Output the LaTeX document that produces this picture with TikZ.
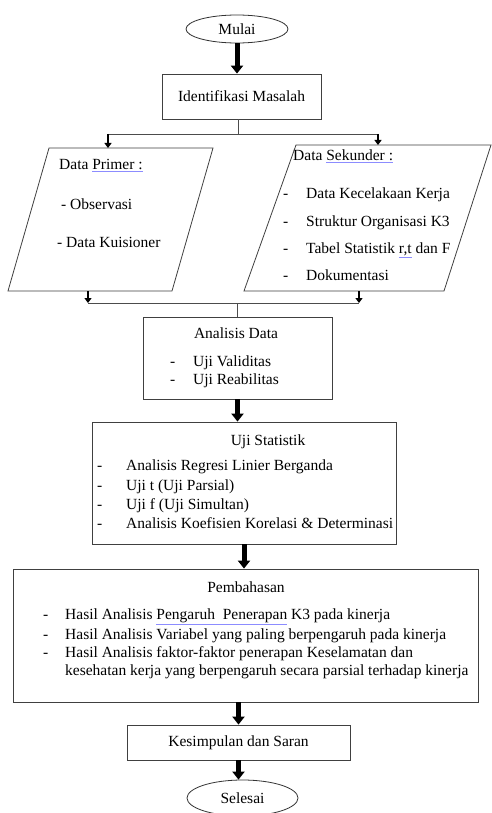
\documentclass[tikz,border=0pt]{standalone}
\usepackage{fontspec}
\setmainfont{Liberation Serif}
\usetikzlibrary{shapes.geometric,arrows.meta}
\newcommand\spl[1]{\textcolor{blue!45}{\underline{\textcolor{black}{#1}}}}
\begin{document}
\begin{tikzpicture}[x=1pt,y=-1pt,
  every node/.style={font=\fontsize{15.5}{17}\selectfont},
  box/.style={draw=black!75, line width=0.8pt, rectangle, inner sep=0},
  term/.style={draw=black!80, line width=0.8pt, ellipse, inner sep=0},
  txt/.style={inner sep=0, anchor=west, text height=7.5pt, text depth=2.5pt},
  ctxt/.style={inner sep=0},
  big/.style={line width=5pt, -{Triangle[width=12pt,length=8pt]}},
  small/.style={line width=1.8pt, -{Triangle[width=7pt,length=5pt]}},
  conn/.style={draw=black!70, line width=0.8pt},
  pgram/.style={draw=black!75, line width=0.8pt}]
\useasboundingbox (0,0) rectangle (492,813);
\fill[white] (0,0) rectangle (492,813);

% start
\node[term, minimum width=102pt, minimum height=28pt] (start) at (237,29) {Mulai};
\node[box, minimum width=159pt, minimum height=45pt] (ident) at (241.5,96.5) {Identifikasi Masalah};
\draw[big] (start.south) -- (start.south |- ident.north);

% split
\coordinate (split) at (238,134);
\coordinate (sL) at (108,134);
\coordinate (sR) at (378,134);
\draw[conn] (ident.south -| split) -- (split);
\draw[conn] (sL) -- (sR);

% left parallelogram
\coordinate (a1) at (49,148);
\coordinate (a2) at (213,148);
\coordinate (a3) at (172,291);
\coordinate (a4) at (8,291);
\draw[pgram] (a1) -- (a2) -- (a3) -- (a4) -- cycle;
\draw[small] (sL) -- (sL |- a1);
\node[txt] (prim) at (59,167) {Data \spl{Primer :}};
\node[txt] (obs) at (61,207) {- Observasi};
\node[txt] (kuis) at (57,245) {- Data Kuisioner};

% right parallelogram
\coordinate (b1) at (296,145);
\coordinate (b2) at (491,145);
\coordinate (b3) at (444,291);
\coordinate (b4) at (244,291);
\draw[pgram] (b1) -- (b2) -- (b3) -- (b4) -- cycle;
\draw[small] (sR) -- (sR |- b1);
\node[txt] (sek) at (293,158) {Data \spl{Sekunder :}};
\node[txt] (d1) at (283,196) {-};
\node[txt] (s1) at (306,196) {Data Kecelakaan Kerja};
\node[txt] (d2) at (283,224) {-};
\node[txt] (s2) at (306,224) {Struktur Organisasi K3};
\node[txt] (d3) at (283,251) {-};
\node[txt] (s3) at (306,251) {Tabel Statistik \spl{r,t} dan F};
\node[txt] (d4) at (283,278) {-};
\node[txt] (s4) at (306,278) {Dokumentasi};

% join
\coordinate (jL) at (88,303);
\coordinate (jR) at (359,303);
\coordinate (jM) at (237,303);
\draw[small] (jL |- a4) -- (jL);
\draw[small] (jR |- b4) -- (jR);
\draw[conn] (jL) -- (jR);

% analisis data
\node[box, minimum width=189pt, minimum height=82pt] (anal) at (237.5,358) {};
\draw[conn] (jM) -- (jM |- anal.north);
\node[ctxt] (analt) at (236,333) {Analisis Data};
\node[txt] (ad1) at (170,364) {-};
\node[txt] (at1) at (193,364) {Uji Validitas};
\node[txt] (ad2) at (170,382) {-};
\node[txt] (at2) at (193,382) {Uji Reabilitas};

% uji statistik
\node[box, minimum width=304pt, minimum height=122pt] (ujist) at (244,483) {};
\draw[big] (anal.south) -- (anal.south |- ujist.north);
\node[ctxt] (ujit) at (268,442) {Uji Statistik};
\node[txt] (ud1) at (97,468) {-};
\node[txt] (ut1) at (126,468) {Analisis Regresi Linier Berganda};
\node[txt] (ud2) at (97,488) {-};
\node[txt] (ut2) at (126,488) {Uji t (Uji Parsial)};
\node[txt] (ud3) at (97,507) {-};
\node[txt] (ut3) at (126,507) {Uji f (Uji Simultan)};
\node[txt] (ud4) at (97,526) {-};
\node[txt] (ut4) at (126,526) {Analisis Koefisien Korelasi \& Determinasi};

% pembahasan
\node[box, minimum width=465pt, minimum height=133pt] (pemb) at (245.5,635.5) {};
\draw[big] (ujist.south) -- (ujist.south |- pemb.north);
\node[ctxt] (pembt) at (246,587) {Pembahasan};
\node[txt] (pd1) at (43,617) {-};
\node[txt] (pt1) at (65,617) {Hasil Analisis \spl{Pengaruh\ \ Penerapan} K3 pada kinerja};
\node[txt] (pd2) at (43,637) {-};
\node[txt] (pt2) at (65,637) {Hasil Analisis Variabel yang paling berpengaruh pada kinerja};
\node[txt] (pd3) at (43,655) {-};
\node[txt] (pt3) at (65,655) {Hasil Analisis faktor-faktor penerapan Keselamatan dan};
\node[txt] (pt4) at (65,673) {kesehatan kerja yang berpengaruh secara parsial terhadap kinerja};

% kesimpulan
\node[box, minimum width=223pt, minimum height=35pt] (kes) at (238.5,742.5) {Kesimpulan dan Saran};
\draw[big] (pemb.south -| kes.north) -- (kes.north);

% selesai
\node[term, minimum width=111pt, minimum height=36pt] (fin) at (242.5,798) {Selesai};
\draw[big] (kes.south) -- (kes.south |- fin.north);
\end{tikzpicture}
\end{document}
